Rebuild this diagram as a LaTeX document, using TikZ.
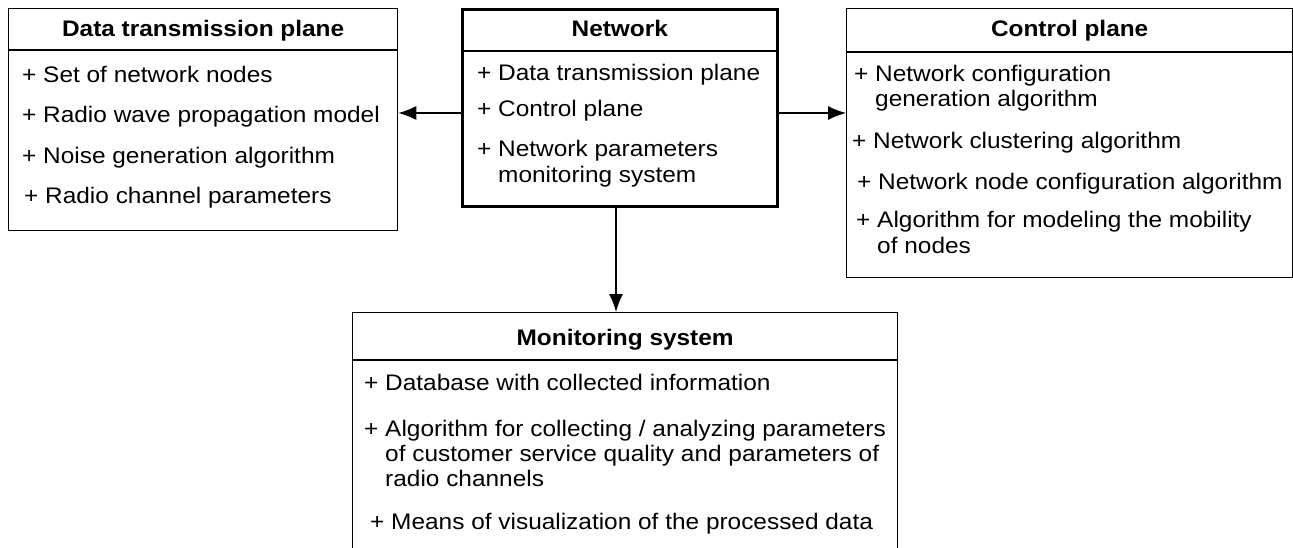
\documentclass[tikz,border=0pt]{standalone}
\usepackage{fontspec}
\setmainfont{Liberation Sans}[FakeStretch=1.085]
\usetikzlibrary{arrows.meta,calc}
\begin{document}
\begin{tikzpicture}[x=1pt,y=-1pt,
  font=\fontsize{22.5pt}{27pt}\selectfont,
  box/.style={draw=black, line width=1.3pt, rectangle, inner sep=0pt, anchor=north west},
  mainbox/.style={box, line width=2.6pt},
  divider/.style={line width=1.3pt},
  title/.style={font=\fontsize{22.5pt}{27pt}\selectfont\bfseries, anchor=base, inner sep=0pt},
  item/.style={anchor=base west, inner sep=0pt},
  conn/.style={line width=1.3pt, -{Latex[length=18pt,width=14pt]}}]

\useasboundingbox (0,0) rectangle (1293,548);
\clip (0,0) rectangle (1293,548);

% class boxes
\node[box, minimum width=389pt, minimum height=222pt] (dtp) at (8,8) {};
\node[mainbox, minimum width=315pt, minimum height=197pt] (net) at (461,8) {};
\node[box, minimum width=446pt, minimum height=269pt] (ctl) at (846,8) {};
\node[box, minimum width=545pt, minimum height=300pt] (mon) at (352,312) {};

% header separators
\draw[divider] ($(dtp.north west)+(0,42)$) -- ($(dtp.north east)+(0,42)$);
\draw[divider, line width=2pt] ($(net.north west)+(0,43)$) -- ($(net.north east)+(0,43)$);
\draw[divider] ($(ctl.north west)+(0,44)$) -- ($(ctl.north east)+(0,44)$);
\draw[divider] ($(mon.north west)+(0,48)$) -- ($(mon.north east)+(0,48)$);

% titles
\node[title] (dtpT) at ($(dtp.north)+(0,29)$) {Data transmission plane};
\node[title] (netT) at ($(net.north)+(0,29)$) {Network};
\node[title] (ctlT) at ($(ctl.north)+(0,29)$) {Control plane};
\node[title] (monT) at ($(mon.north)+(0,33)$) {Monitoring system};

% data transmission plane
\node[item] (d1) at (22,83)  {+ Set of network nodes};
\node[item] (d2) at (22,123) {+ Radio wave propagation model};
\node[item] (d3) at (22,164) {+ Noise generation algorithm};
\node[item] (d4) at (24,204) {+ Radio channel parameters};

% network
\node[item] (n1) at (477,81)  {+ Data transmission plane};
\node[item] (n2) at (477,117) {+ Control plane};
\node[item] (n3) at (477,157) {+ Network parameters};
\node[item] (n3b) at (477,183) {\phantom{+ }monitoring system};

% control plane
\node[item] (c1) at (854,82)  {+ Network configuration};
\node[item] (c1b) at (854,107) {\phantom{+ }generation algorithm};
\node[item] (c2) at (852,149) {+ Network clustering algorithm};
\node[item] (c3) at (857,190) {+ Network node configuration algorithm};
\node[item] (c4) at (856,228) {+ Algorithm for modeling the mobility};
\node[item] (c4b) at (856,254) {\phantom{+ }of nodes};

% monitoring system
\node[item] (m1) at (364,390) {+ Database with collected information};
\node[item] (m2) at (364,436) {+ Algorithm for collecting / analyzing parameters};
\node[item] (m2b) at (364,461) {\phantom{+ }of customer service quality and parameters of};
\node[item] (m2c) at (364,486) {\phantom{+ }radio channels};
\node[item] (m3) at (370,529) {+ Means of visualization of the processed data};

% associations
\coordinate (ya) at (0,113);
\coordinate (xa) at (616,0);
\draw[conn] (net.west |- ya) -- (dtp.east |- ya);
\draw[conn] (net.east |- ya) -- (ctl.west |- ya);
\draw[conn] (net.south -| xa) -- (mon.north -| xa);
\end{tikzpicture}
\end{document}
